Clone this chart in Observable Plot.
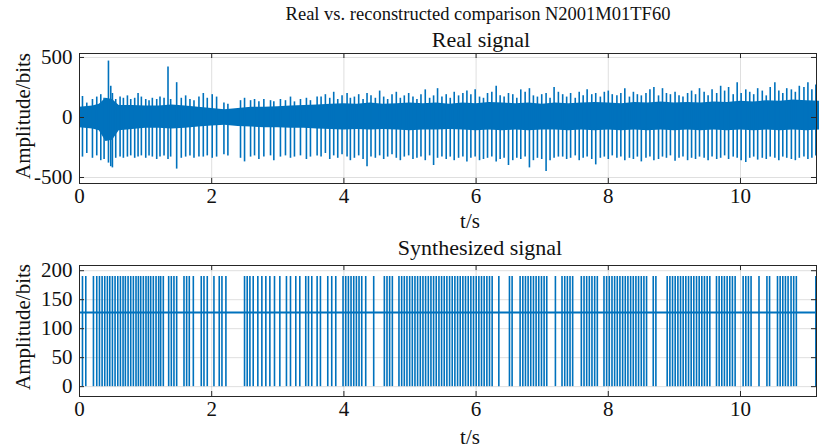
<!DOCTYPE html>
<html><head><meta charset="utf-8">
<script src="https://cdn.jsdelivr.net/npm/d3@7"></script>
<script src="https://cdn.jsdelivr.net/npm/@observablehq/plot@0.6"></script>
<style>
body{margin:0;background:#fff;}
#root{position:relative;width:819px;height:448px;overflow:hidden;font-family:"Liberation Serif","Times New Roman",Times,"DejaVu Serif",serif;color:#111;}
#root svg{position:absolute;left:0;}
.t{position:absolute;white-space:nowrap;line-height:1;transform:translate(-50%,-50%);z-index:2;}
</style></head><body><div id="root"></div>
<script>
// ---- text ----
const mainTitle = "Real vs. reconstructed comparison N2001M01TF60";
const topTitle = "Real signal";
const bottomTitle = "Synthesized signal";
const xLabel = "t/s";
const yLabel = "Amplitude/bits";

// ---- ticks ----
const xTicks = [0, 2, 4, 6, 8, 10];
const realYTicks = [-500, 0, 500];
const synthYTicks = [0, 50, 100, 150, 200];

// ---- real signal: background activity envelope ----
const envT = [0,0.2,0.3,0.4,0.5,0.6,0.8,1.0,1.2,1.4,1.6,1.8,2.0,2.2,2.4,2.6,2.8,3.0,3.2,3.4,3.6,3.8,4.0,4.2,4.4,4.6,4.8,5.0,5.2,5.4,5.6,5.8,6.0,6.2,6.4,6.6,6.8,7.0,7.2,7.4,7.6,7.8,8.0,8.2,8.4,8.6,8.8,9.0,9.2,9.4,9.6,9.8,10.0,10.2,10.4,10.6,10.8,11.0,11.2];
const envHi = [85,95,110,160,150,100,100,95,95,105,95,85,75,65,75,85,85,90,95,100,105,110,115,110,120,110,115,120,115,120,110,120,115,125,120,115,120,110,120,115,120,125,120,115,125,120,130,120,125,120,130,125,135,130,140,135,145,140,135];
const envLo = [-85,-95,-110,-200,-190,-110,-100,-90,-90,-95,-90,-80,-70,-65,-75,-80,-85,-85,-90,-90,-95,-100,-105,-100,-105,-100,-105,-110,-105,-105,-100,-105,-110,-105,-110,-105,-110,-105,-105,-110,-105,-110,-105,-110,-105,-110,-105,-110,-105,-110,-105,-110,-105,-110,-105,-110,-105,-110,-105];

// ---- real signal: motor-unit spikes (time, positive peak, negative peak) ----
const realSpikeT = [0.045,0.11,0.196,0.261,0.322,0.372,0.438,0.473,0.498,0.548,0.614,0.664,0.725,0.775,0.835,0.886,0.936,1.002,1.052,1.102,1.168,1.218,1.279,1.339,1.379,1.47,1.54,1.606,1.671,1.732,1.807,1.873,1.933,2.008,2.074,2.185,2.245,2.436,2.497,2.588,2.648,2.714,2.789,2.89,2.94,3.04,3.116,3.192,3.252,3.343,3.433,3.494,3.595,
3.655,3.72,3.786,3.846,3.907,3.972,4.048,4.098,4.159,4.224,4.29,4.35,4.41,4.476,4.541,4.602,4.662,4.728,4.793,4.854,4.914,4.98,5.045,5.105,5.166,5.231,5.297,5.357,5.417,5.483,5.548,5.609,5.669,5.735,5.8,5.861,5.921,5.986,6.052,6.112,6.173,6.238,6.304,6.364,6.424,6.49,6.555,6.616,6.676,6.742,6.807,6.867,6.928,6.993,7.059,7.119,7.18,7.245,
7.31,7.37,7.43,7.5,7.56,7.62,7.68,7.75,7.81,7.88,7.94,8.0,8.06,8.13,8.19,8.25,8.32,8.38,8.44,8.5,8.57,8.63,8.69,8.76,8.82,8.88,8.94,9.01,9.07,9.13,9.2,9.26,9.32,9.38,9.45,9.51,9.57,9.64,9.7,9.76,9.82,9.89,9.95,10.01,10.08,10.14,10.2,10.26,10.33,10.39,10.45,10.52,10.58,10.64,10.7,10.77,10.83,10.89,10.96,11.02,11.08,11.14];
const realSpikeHi = [175,120,150,170,190,160,470,260,200,150,170,160,180,150,160,200,170,150,140,160,150,170,160,420,150,290,160,180,150,140,170,200,160,190,170,120,110,140,160,140,150,130,150,140,130,150,140,170,130,150,160,140,170,
170,190,160,210,150,180,200,160,170,190,150,200,180,160,220,170,150,190,210,160,180,200,170,150,190,230,160,180,240,170,190,160,210,180,200,220,190,230,170,160,200,210,260,180,170,200,190,160,230,210,240,180,170,190,200,160,250,210,
190,170,200,160,210,180,230,190,200,170,210,220,190,180,200,240,170,210,190,180,200,230,250,180,240,200,190,210,180,170,200,220,190,240,210,180,230,200,260,220,250,190,290,200,230,210,190,240,220,180,250,290,220,200,240,230,210,260,250,290,230,270];
const realSpikeLo = [-330,-300,-340,-320,-360,-350,-380,-410,-420,-340,-330,-340,-330,-320,-340,-330,-320,-340,-320,-330,-350,-330,-320,-350,-330,-430,-340,-330,-320,-340,-330,-330,-320,-340,-330,-310,-320,-340,-370,-330,-320,-350,-330,-320,-360,-330,-320,-340,-330,-320,-350,-330,-320,
-330,-300,-350,-320,-340,-310,-330,-360,-340,-320,-350,-410,-330,-340,-320,-350,-330,-310,-340,-360,-330,-320,-350,-340,-330,-360,-320,-400,-340,-330,-350,-330,-360,-340,-330,-370,-340,-330,-360,-350,-340,-330,-370,-350,-340,-400,-360,-340,-350,-330,-420,-360,-340,-350,-450,-360,-340,-330,
-330,-350,-340,-320,-360,-340,-330,-350,-395,-340,-330,-350,-320,-340,-330,-360,-340,-350,-330,-370,-340,-330,-360,-350,-330,-340,-320,-365,-340,-330,-360,-340,-350,-330,-340,-360,-330,-350,-340,-320,-350,-330,-340,-360,-375,-340,-330,-355,-340,-350,-330,-340,-360,-330,-340,-350,-360,-340,-330,-350,-340,-320];

// ---- synthesized signal ----
const synthBaseline = 128;
const synthPeak = 190;
const synthTrough = 0;
const synthSpikeT = [0.045,0.095,0.211,0.261,0.302,0.342,0.382,0.422,0.458,0.498,0.538,0.579,0.619,0.659,0.694,0.735,0.775,0.815,0.855,0.891,0.926,0.966,1.006,1.042,1.077,1.117,1.158,1.198,1.228,1.268,1.349,1.389,1.429,1.470,1.581,1.621,1.661,1.722,1.842,1.883,1.933,2.034,2.114,2.155,2.215,
2.497,2.537,2.578,2.628,2.698,2.759,2.819,2.880,2.950,3.031,3.131,3.192,3.272,3.333,3.423,3.464,3.514,3.595,3.645,3.756,3.816,3.877,3.987,4.028,4.068,4.108,4.149,4.189,4.229,4.270,4.330,4.451,4.612,4.652,4.692,4.733,
4.833,4.874,4.914,4.954,4.995,5.035,5.075,5.115,5.156,5.196,5.236,5.277,5.317,5.357,5.397,5.438,5.478,5.518,5.558,5.599,5.639,5.679,5.720,5.760,5.800,5.840,5.881,5.921,5.961,6.002,6.042,6.082,6.122,6.163,6.203,6.243,6.344,6.505,6.545,
6.666,6.707,6.747,6.787,6.827,6.868,6.908,6.948,6.989,7.029,7.069,7.200,7.300,7.341,7.381,7.421,7.461,7.592,7.633,7.673,7.713,7.753,7.794,7.834,7.935,7.975,8.015,8.056,8.096,8.136,8.176,8.217,8.257,8.297,8.338,8.378,8.418,8.458,8.499,8.539,8.579,8.680,8.720,
8.891,8.932,8.972,9.012,9.053,9.093,9.133,9.173,9.214,9.254,9.294,9.335,9.375,9.415,9.455,9.496,9.536,9.637,9.677,9.717,9.757,9.798,9.838,9.878,9.919,10.04,10.08,10.12,10.16,10.28,10.40,10.44,10.56,10.60,10.64,10.68,10.72,10.765,10.805,10.845,11.14];

// ---- layout ----
const W = 819, ML = 79, MR = 3;
const BLUE = "#0072BD";
const INK = "#262626";
const FONT = '"Liberation Serif","Times New Roman",Times,"DejaVu Serif",serif';
const xDomain = [0, 11.15];
const fmt = d => String(d);

function panel({height, marginTop, marginBottom, yDomain, yTicks, marks}) {
  const innerW = W - ML - MR, innerH = height - marginTop - marginBottom;
  return Plot.plot({
    width: W, height, marginLeft: ML, marginRight: MR, marginTop, marginBottom,
    x: {domain: xDomain}, y: {domain: yDomain},
    style: {fontFamily: FONT, fontSize: "21px", color: "#111", background: "transparent", overflow: "visible"},
    marks: [
      Plot.gridX({ticks: xTicks, stroke: "#000", strokeOpacity: 0.13}),
      Plot.gridY({ticks: yTicks, stroke: "#000", strokeOpacity: 0.13}),
      ...marks,
      Plot.frame({stroke: INK, strokeWidth: 1}),
      Plot.ruleX(xTicks, {x: d => d, insetTop: innerH - 5, stroke: INK}),
      Plot.ruleX(xTicks, {x: d => d, insetBottom: innerH - 5, stroke: INK}),
      Plot.ruleY(yTicks, {y: d => d, insetRight: innerW - 5, stroke: INK}),
      Plot.ruleY(yTicks, {y: d => d, insetLeft: innerW - 5, stroke: INK}),
      Plot.axisX({ticks: xTicks, tickSize: 0, tickPadding: 5, tickFormat: fmt, label: null, fontSize: 21, fontFamily: FONT}),
      Plot.axisY({ticks: yTicks, tickSize: 0, tickPadding: 7, tickFormat: fmt, label: null, fontSize: 21, fontFamily: FONT})
    ]
  });
}

const envIdx = envT.map((_, i) => i);
const realIdx = realSpikeT.map((_, i) => i);

const topChart = panel({
  height: 230, marginTop: 53, marginBottom: 47,
  yDomain: [-550, 533], yTicks: realYTicks,
  marks: [
    Plot.areaY(envIdx, {x: i => envT[i], y1: i => envLo[i], y2: i => envHi[i], fill: BLUE}),
    Plot.ruleX(realIdx, {x: i => realSpikeT[i], y1: i => realSpikeLo[i], y2: i => realSpikeHi[i], stroke: BLUE, strokeWidth: 1.6})
  ]
});

const bottomChart = panel({
  height: 218, marginTop: 35, marginBottom: 52,
  yDomain: [-17, 209], yTicks: synthYTicks,
  marks: [
    Plot.ruleY([synthBaseline], {y: d => d, stroke: BLUE, strokeWidth: 2}),
    Plot.ruleX(synthSpikeT, {x: d => d, y1: synthTrough, y2: synthPeak, stroke: BLUE, strokeWidth: 1.6})
  ]
});

const root = document.getElementById("root");
topChart.style.top = "0px";
bottomChart.style.top = "230px";
root.appendChild(topChart);
root.appendChild(bottomChart);

function label(text, x, y, size, rotate) {
  const d = document.createElement("div");
  d.className = "t";
  d.textContent = text;
  d.style.left = x + "px";
  d.style.top = y + "px";
  d.style.fontSize = size + "px";
  d.style.fontFamily = FONT;
  if (rotate) d.style.transform = "translate(-50%,-50%) rotate(-90deg)";
  root.appendChild(d);
}
label(mainTitle, 478, 14, 18.5);
label(topTitle, 481, 40, 22);
label(xLabel, 470, 221, 21);
label(bottomTitle, 480, 248, 22);
label(xLabel, 470, 437, 21);
label(yLabel, 23, 116, 21, true);
label(yLabel, 23, 327, 21, true);
</script></body></html>
